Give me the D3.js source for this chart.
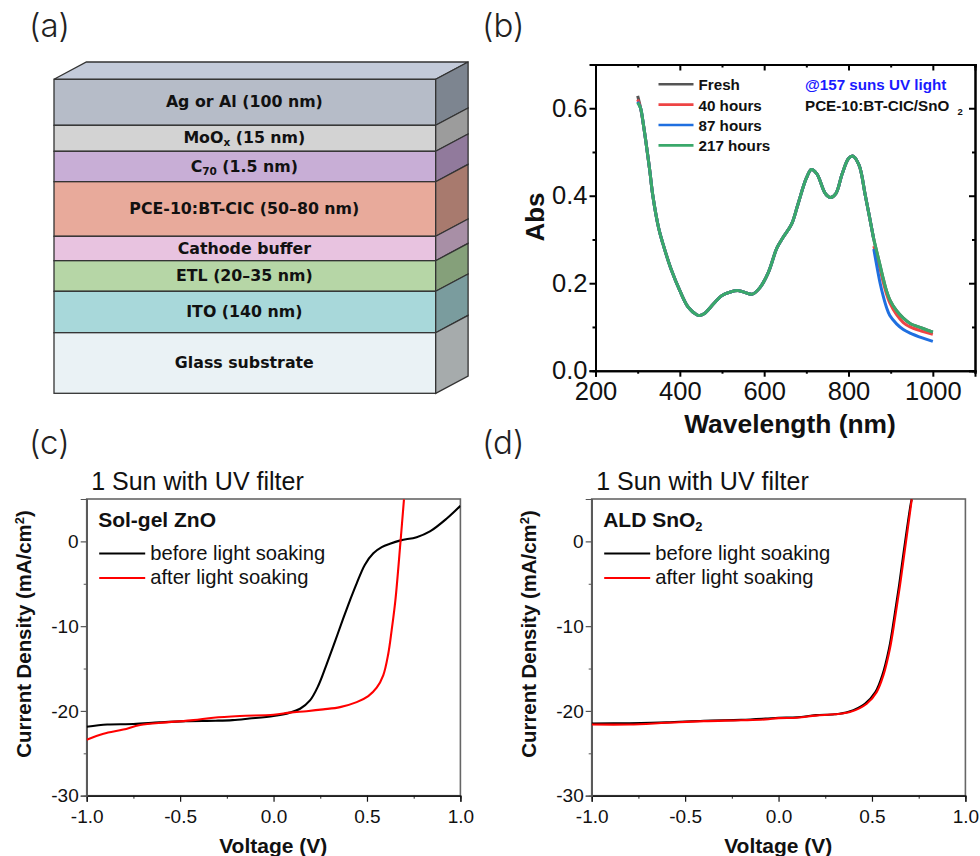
<!DOCTYPE html>
<html>
<head>
<meta charset="utf-8">
<script src="https://cdn.jsdelivr.net/npm/d3@7"></script>
<style>
body { margin: 0; background: #fff; }
text { font-family: "Liberation Sans", Arial, sans-serif; fill: #111; }
</style>
</head>
<body>
<div id="chart"></div>
<script>
// (a) device stack
var layerNames = ["Ag or Al (100 nm)", "MoO|x| (15 nm)", "C|70| (1.5 nm)", "PCE-10:BT-CIC (50–80 nm)", "Cathode buffer", "ETL (20–35 nm)", "ITO (140 nm)", "Glass substrate"];
var layerSizes = [46, 26, 30.4, 54.6, 24.4, 30.6, 41.4, 60.6];
var layerFront = ["#b6bcc8", "#d3d3d3", "#c8aed6", "#e8aa9b", "#e8c3e0", "#b6d6a6", "#a8d8da", "#eaf2f5"];
var layerSide = ["#7d8590", "#9c9c9c", "#917a9c", "#a87a6e", "#a88fa6", "#85a07a", "#7a9c9e", "#a6abac"];

// (b) absorbance, all four curves overlap up to 860 nm except the first point
var absWavelength = [300, 307, 314, 320, 329, 336, 350, 360, 380, 400, 420, 440, 447, 460, 480, 500, 520, 540, 560, 572, 590, 610, 630, 645, 665, 680, 700, 712, 725, 745, 757, 770, 785, 800, 810, 825, 840, 860];
var absShared = [0.62, 0.6, 0.56, 0.52, 0.455, 0.4, 0.325, 0.29, 0.23, 0.183, 0.145, 0.128, 0.126, 0.132, 0.153, 0.172, 0.18, 0.183, 0.177, 0.175, 0.19, 0.225, 0.28, 0.305, 0.335, 0.38, 0.44, 0.46, 0.45, 0.405, 0.396, 0.405, 0.45, 0.485, 0.491, 0.47, 0.4, 0.3];
var absStart = [0.628, 0.62, 0.615, 0.613];
var tailWavelength = [860, 875, 883, 890, 898, 914, 930, 946, 975, 1000];
var tailFresh = [0.3, 0.24, 0.208, 0.183, 0.162, 0.137, 0.12, 0.108, 0.097, 0.088];
var tail40 = [0.285, 0.232, 0.2, 0.176, 0.155, 0.128, 0.11, 0.1, 0.09, 0.083];
var tail87 = [0.278, 0.2, 0.168, 0.145, 0.126, 0.107, 0.094, 0.086, 0.075, 0.067];
var tail217 = [0.3, 0.24, 0.208, 0.183, 0.162, 0.137, 0.12, 0.108, 0.097, 0.088];
var absNames = ["Fresh", "40 hours", "87 hours", "217 hours"];
var absColors = ["#555555", "#ee4444", "#1f6fe0", "#3aa86a"];

// (c) Sol-gel ZnO
var zV_before = [-1, -0.89, -0.75, -0.61, -0.47, -0.31, -0.22, -0.13, 0, 0.088, 0.142, 0.195, 0.24, 0.284, 0.329, 0.373, 0.409, 0.445, 0.489, 0.534, 0.579, 0.623, 0.68, 0.766, 0.837, 0.927, 1];
var zJ_before = [-21.86, -21.6, -21.55, -21.35, -21.2, -21.15, -21.08, -20.9, -20.6, -20.2, -19.74, -18.76, -17, -14.5, -11.8, -9.08, -6.96, -4.95, -2.75, -1.4, -0.67, -0.27, 0.12, 0.5, 1.18, 2.7, 4.2];
var zV_after = [-1, -0.91, -0.804, -0.715, -0.572, -0.429, -0.322, -0.18, 0, 0.088, 0.177, 0.266, 0.356, 0.445, 0.507, 0.552, 0.587, 0.614, 0.632, 0.652, 0.68, 0.698];
var zJ_after = [-23.4, -22.7, -22.2, -21.67, -21.35, -21.08, -20.8, -20.6, -20.45, -20.2, -20.03, -19.82, -19.55, -18.96, -18.25, -17.26, -15.8, -13.25, -10.5, -6.96, 0.12, 4.95];

// (d) ALD SnO2
var sV_before = [-1, -0.8, -0.6, -0.4, -0.2, -0.07, 0, 0.1, 0.2, 0.3, 0.375, 0.462, 0.518, 0.555, 0.591, 0.618, 0.645, 0.672, 0.708, 0.713];
var sJ_before = [-21.5, -21.45, -21.35, -21.15, -21.05, -20.9, -20.8, -20.75, -20.5, -20.4, -20.1, -19.15, -17.78, -15.8, -12.66, -9.12, -5.19, -0.86, 4.5, 4.95];
var sV_after = [-1, -0.8, -0.6, -0.4, -0.2, -0.07, 0, 0.1, 0.2, 0.3, 0.382, 0.472, 0.525, 0.561, 0.596, 0.623, 0.65, 0.677, 0.713];
var sJ_after = [-21.6, -21.6, -21.4, -21.2, -21.1, -21, -20.85, -20.8, -20.55, -20.4, -20.14, -19.15, -17.78, -15.8, -12.66, -9.12, -5.19, -0.86, 4.95];

var soakNames = ["before light soaking", "after light soaking"];
var soakColors = ["#000000", "#ff0000"];
var xTicksJV = [-1, -0.5, 0, 0.5, 1];
var xMinorJV = [-0.75, -0.25, 0.25, 0.75];
var yTicksJV = [0, -10, -20, -30];
var yMinorJV = [-5, -15, -25];

var svg = d3.select("#chart")
    .append("svg")
    .attr("width", 980)
    .attr("height", 856)
    .style("display", "block");

// panel letters
var letters = [["(a)", 29, 37], ["(b)", 482, 37], ["(c)", 29, 453.5], ["(d)", 482, 453.5]];
svg.selectAll(".letter")
    .data(letters)
    .enter()
    .append("text")
    .attr("class", "letter")
    .attr("x", d => d[1])
    .attr("y", d => d[2])
    .style("font-family", "Inter, sans-serif")
    .style("font-weight", 300)
    .style("font-size", "33px")
    .style("fill", "#222")
    .text(d => d[0]);

// ---- panel a ----
var stackEdges = [0];
layerSizes.forEach(d => stackEdges.push(stackEdges[stackEdges.length - 1] + d));
var stackY = d3.scaleLinear().domain([0, d3.sum(layerSizes)]).range([79.3, 393.3]);
var stackLeft = 54, stackRight = 435.7, depthX = 32.4, depthY = -17.3;
var stack = svg.append("g");

stack.append("path")
    .attr("d", `M${stackLeft},${stackY(0)} l${depthX},${depthY} H${stackRight + depthX} l${-depthX},${-depthY} Z`)
    .attr("fill", "#c3cad9")
    .attr("stroke", "#333")
    .attr("stroke-width", 1.3);

layerSizes.forEach(function(d, i) {
    var y0 = stackY(stackEdges[i]), y1 = stackY(stackEdges[i + 1]);
    stack.append("rect")
        .attr("x", stackLeft)
        .attr("y", y0)
        .attr("width", stackRight - stackLeft)
        .attr("height", y1 - y0)
        .attr("fill", layerFront[i])
        .attr("stroke", "#333")
        .attr("stroke-width", 1.3);
    stack.append("path")
        .attr("d", `M${stackRight},${y0} l${depthX},${depthY} V${y1 + depthY} l${-depthX},${-depthY} Z`)
        .attr("fill", layerSide[i])
        .attr("stroke", "#333")
        .attr("stroke-width", 1.3);

    // names with | mark a subscript
    var parts = layerNames[i].split("|");
    var label = stack.append("text")
        .attr("x", (stackLeft + stackRight) / 2 - 0.5)
        .attr("y", (y0 + y1) / 2 + 5)
        .attr("text-anchor", "middle")
        .style("font-family", "DejaVu Sans")
        .style("font-weight", "bold")
        .style("font-size", "15.8px");
    parts.forEach(function(p, j) {
        var span = label.append("tspan").text(p);
        if (j == 1) span.attr("dy", 3).style("font-size", "10.5px");
        if (j == 2) span.attr("dy", -3);
    });
});

// ---- panel b ----
var xAbs = d3.scaleLinear().domain([200, 1100]).range([595.5, 975]);
var yAbs = d3.scaleLinear().domain([0, 0.7]).range([370.7, 64.5]);
var bPanel = svg.append("g");

function styleAxis(g, color, width) {
    g.selectAll("path").attr("stroke", color).attr("stroke-width", width);
    g.selectAll("line").attr("stroke", color).attr("stroke-width", width);
}

var bTicksX = [200, 400, 600, 800, 1000], bMinorX = [300, 500, 700, 900, 1100];
var bTicksY = [0, 0.2, 0.4, 0.6], bMinorY = [0.1, 0.3, 0.5, 0.7];

bPanel.append("g").attr("transform", "translate(0,370.7)")
    .call(d3.axisBottom(xAbs).tickValues(bMinorX).tickSize(3).tickFormat("")).call(styleAxis, "#000", 2);
var bx = bPanel.append("g").attr("transform", "translate(0,370.7)")
    .call(d3.axisBottom(xAbs).tickValues(bTicksX).tickSize(6).tickPadding(5).tickFormat(d3.format("d"))).call(styleAxis, "#000", 2);
bx.selectAll("text").style("font-size", "25.5px").style("font-family", "Liberation Sans");

bPanel.append("g").attr("transform", "translate(595.5,0)")
    .call(d3.axisLeft(yAbs).tickValues(bMinorY).tickSize(3).tickFormat("")).call(styleAxis, "#000", 2);
var by = bPanel.append("g").attr("transform", "translate(595.5,0)")
    .call(d3.axisLeft(yAbs).tickValues(bTicksY).tickSize(6).tickPadding(2).tickFormat(d3.format(".1f"))).call(styleAxis, "#000", 2);
by.selectAll("text").style("font-size", "25.5px").style("font-family", "Liberation Sans");

// top and right sides tick inward
bPanel.append("g").attr("transform", "translate(0,64.5)")
    .call(d3.axisBottom(xAbs).tickValues(bTicksX).tickSize(6).tickFormat("")).call(styleAxis, "#000", 2);
bPanel.append("g").attr("transform", "translate(0,64.5)")
    .call(d3.axisBottom(xAbs).tickValues(bMinorX).tickSize(3).tickFormat("")).call(styleAxis, "#000", 2);
bPanel.append("g").attr("transform", "translate(975,0)")
    .call(d3.axisLeft(yAbs).tickValues(bTicksY).tickSize(6).tickFormat("")).call(styleAxis, "#000", 2);
bPanel.append("g").attr("transform", "translate(975,0)")
    .call(d3.axisLeft(yAbs).tickValues(bMinorY).tickSize(3).tickFormat("")).call(styleAxis, "#000", 2);

var absLine = d3.line()
    .x(d => xAbs(d[0]))
    .y(d => yAbs(d[1]))
    .curve(d3.curveCatmullRom.alpha(0.5));

[tailFresh, tail40, tail87, tail217].forEach(function(tail, i) {
    var pts = d3.zip(absWavelength, absShared);
    pts[0] = [absWavelength[0], absStart[i]];
    var tailPts = d3.zip(tailWavelength, tail);
    bPanel.append("path").attr("d", absLine(pts))
        .attr("fill", "none").attr("stroke", absColors[i]).attr("stroke-width", 3);
    bPanel.append("path").attr("d", absLine(tailPts))
        .attr("fill", "none").attr("stroke", absColors[i]).attr("stroke-width", 3);
});

absNames.forEach(function(name, i) {
    var y = 84.3 + i * 20.35;
    bPanel.append("line").attr("x1", 658.5).attr("x2", 693.5).attr("y1", y).attr("y2", y)
        .attr("stroke", absColors[i]).attr("stroke-width", 2.6);
    bPanel.append("text").attr("x", 698.5).attr("y", y + 6)
        .style("font-weight", "bold").style("font-size", "15.2px").text(name);
});

bPanel.append("text").attr("x", 805).attr("y", 90)
    .style("font-weight", "bold").style("font-size", "15.2px").style("fill", "#1a1aff").text("@157 suns UV light");
bPanel.append("text").attr("x", 805).attr("y", 111)
    .style("font-weight", "bold").style("font-size", "15.2px").text("PCE-10:BT-CIC/SnO");
bPanel.append("text").attr("x", 957.5).attr("y", 114.5)
    .style("font-weight", "bold").style("font-size", "9.5px").text("2");

bPanel.append("text").attr("x", 790).attr("y", 433)
    .attr("text-anchor", "middle")
    .style("font-weight", "bold").style("font-size", "26.4px").text("Wavelength (nm)");
bPanel.append("text")
    .attr("transform", "translate(544,217) rotate(-90)")
    .attr("text-anchor", "middle")
    .style("font-weight", "bold").style("font-size", "26px").text("Abs");

// ---- panels c and d ----
function drawJV(left, curves, tagText, tagSub) {
    var right = left + 373.7;
    var x = d3.scaleLinear().domain([-1, 1]).range([left, right]);
    var y = d3.scaleLinear().domain([-30, 5]).range([795.7, 499]);
    var g = svg.append("g");

    // clip the steep branch at the frame
    var clipId = "clip" + Math.round(left);
    g.append("clipPath").attr("id", clipId).append("rect")
        .attr("x", left).attr("y", 499).attr("width", 373.7).attr("height", 296.7);

    g.append("rect").attr("x", left).attr("y", 499).attr("width", 373.7).attr("height", 296.7)
        .attr("fill", "none").attr("stroke", "#666").attr("stroke-width", 1.6);

    g.append("g").attr("transform", "translate(0,795.7)")
        .call(d3.axisBottom(x).tickValues(xMinorJV).tickSize(3).tickFormat("")).call(styleAxis, "#222", 1);
    var ax = g.append("g").attr("transform", "translate(0,795.7)")
        .call(d3.axisBottom(x).tickValues(xTicksJV).tickSize(6).tickPadding(8).tickFormat(d3.format(".1f"))).call(styleAxis, "#111", 1.2);
    ax.selectAll("text").style("font-size", "19px").style("font-family", "Liberation Sans").text(d => d3.format(".1f")(d).replace("−", "-"));

    g.append("g").attr("transform", `translate(${left},0)`)
        .call(d3.axisLeft(y).tickValues(yMinorJV).tickSize(3).tickFormat("")).call(styleAxis, "#555", 1);
    var ay = g.append("g").attr("transform", `translate(${left},0)`)
        .call(d3.axisLeft(y).tickValues(yTicksJV).tickSize(6).tickPadding(2).tickFormat(d3.format("d"))).call(styleAxis, "#555", 1.2);
    ay.selectAll("text").style("font-size", "19px").style("font-family", "Liberation Sans").text(d => String(d));

    var line = d3.line().x(d => x(d[0])).y(d => y(d[1])).curve(d3.curveCatmullRom.alpha(0.5));
    curves.forEach(function(c, i) {
        g.append("path").attr("d", line(d3.zip(c[0], c[1])))
            .attr("clip-path", `url(#${clipId})`)
            .attr("fill", "none").attr("stroke", soakColors[i]).attr("stroke-width", 2.1);
    });

    soakNames.forEach(function(name, i) {
        var ly = 553.4 + i * 24.5;
        g.append("line").attr("x1", left + 12.5).attr("x2", left + 58.5).attr("y1", ly).attr("y2", ly)
            .attr("stroke", soakColors[i]).attr("stroke-width", 2);
        g.append("text").attr("x", left + 63.5).attr("y", ly + 6.5)
            .style("font-size", "20.2px").text(name);
    });

    g.append("text").attr("x", left + 4.5).attr("y", 490)
        .style("font-size", "25px").text("1 Sun with UV filter");

    var tag = g.append("text").attr("x", left + 11.5).attr("y", 526.5)
        .style("font-weight", "bold").style("font-size", "21px").text(tagText);
    if (tagSub) {
        tag.append("tspan").attr("dy", 4).style("font-size", "13px").text(tagSub);
    }

    g.append("text").attr("x", left + 186.5).attr("y", 853)
        .attr("text-anchor", "middle")
        .style("font-weight", "bold").style("font-size", "21px").text("Voltage (V)");

    var yl = g.append("text")
        .attr("transform", `translate(${left - 55.5},634) rotate(-90)`)
        .attr("text-anchor", "middle")
        .style("font-weight", "bold").style("font-size", "20.4px").text("Current Density (mA/cm");
    yl.append("tspan").attr("dy", -7).style("font-size", "13px").text("2");
    yl.append("tspan").attr("dy", 7).text(")");
}

drawJV(86.7, [[zV_before, zJ_before], [zV_after, zJ_after]], "Sol-gel ZnO", "");
drawJV(591.7, [[sV_before, sJ_before], [sV_after, sJ_after]], "ALD SnO", "2");
</script>
</body>
</html>
